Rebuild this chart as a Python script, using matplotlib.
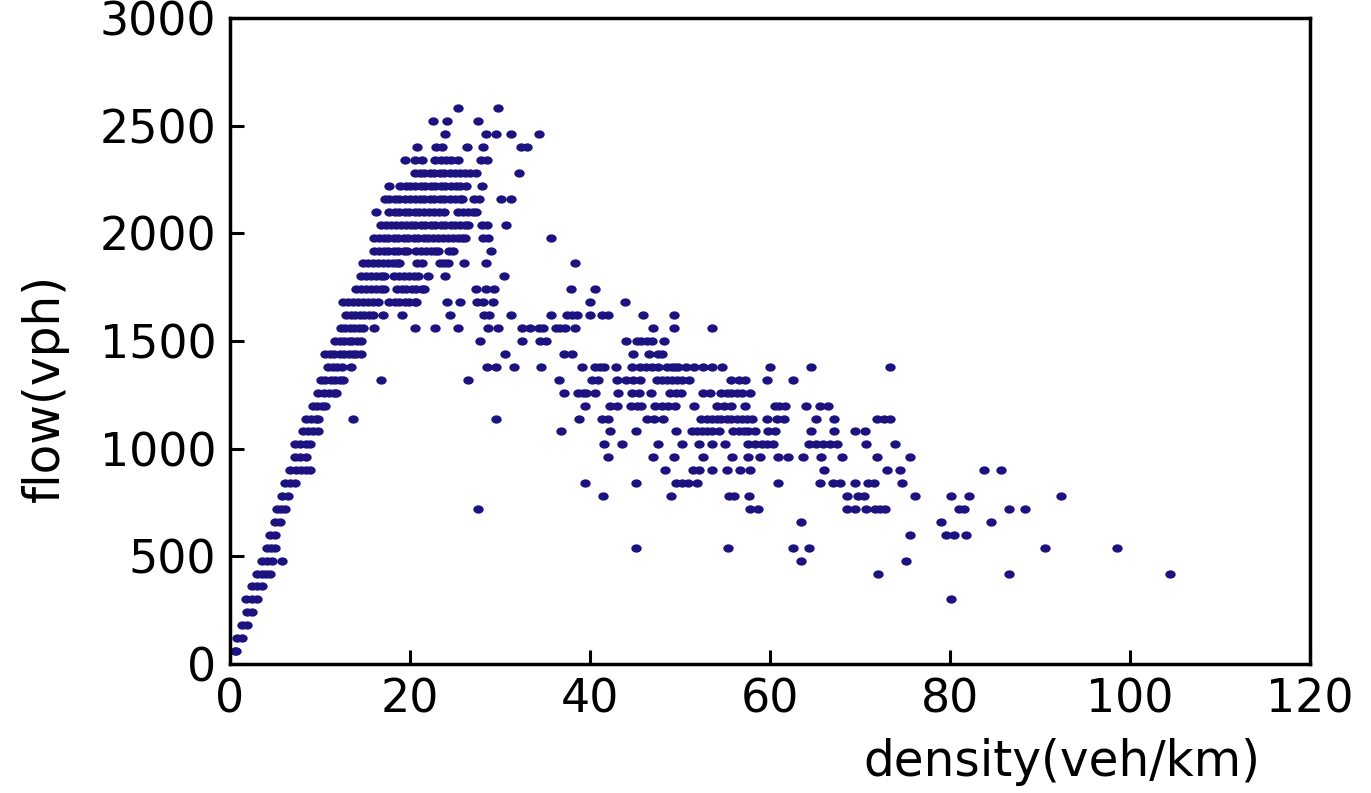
import matplotlib
matplotlib.use("Agg")
import matplotlib.pyplot as plt
from matplotlib.path import Path
from matplotlib.transforms import Affine2D

# flow levels (vph) and the densities (veh/km) observed at each level
flow_vph = [2580, 2520, 2460, 2400, 2340, 2280, 2220, 2160, 2100, 2040,
            1980, 1920, 1860, 1800, 1740, 1680, 1620, 1560, 1500, 1440,
            1380, 1320, 1260, 1200, 1140, 1080, 1020, 960, 900, 840,
            780, 720, 660, 600, 540, 480, 420, 360, 300, 240, 180, 120, 60]

density_rows = [
    [25.3, 29.8],
    [22.5, 24.1, 27.5],
    [23.9, 28.4, 29.6, 31.2, 34.3],
    [20.8, 22.9, 23.5, 26.3, 28.1, 32.3, 33.0],
    [19.4, 20.5, 21.3, 22.8, 23.4, 24.0, 24.6, 25.3, 27.9, 28.6],
    [20.5, 21.1, 21.6, 22.2, 22.7, 23.3, 23.8, 24.4, 25.0, 25.5, 26.1, 26.7, 27.3, 32.1],
    [17.7, 18.9, 19.5, 20.0, 20.6, 21.2, 21.7, 22.3, 22.8, 23.4, 23.9, 24.5, 25.1, 25.6,
     26.2, 28.0],
    [17.2, 17.7, 18.3, 18.8, 19.4, 20.0, 20.5, 21.1, 21.6, 22.2, 22.7, 23.3, 23.8, 24.4,
     25.0, 25.5, 25.8, 27.1, 27.7, 30.1, 31.2],
    [16.2, 17.7, 18.3, 18.8, 19.4, 19.9, 20.5, 21.0, 21.6, 22.1, 22.7, 23.2, 23.8, 25.3,
     25.9, 26.4, 27.0, 27.3],
    [16.8, 17.3, 17.9, 18.4, 19.0, 19.5, 20.1, 20.6, 21.2, 21.7, 22.3, 22.8, 23.4, 23.9,
     24.5, 25.0, 25.6, 26.1, 26.4, 28.0, 28.6, 30.7],
    [16.0, 16.5, 17.1, 17.6, 18.2, 18.7, 19.3, 19.8, 20.4, 20.9, 21.5, 22.0, 22.6, 23.1,
     23.7, 24.2, 24.8, 25.3, 25.8, 26.1, 28.1, 28.7, 35.7],
    [16.0, 16.5, 17.1, 17.6, 18.2, 18.7, 19.3, 19.7, 20.7, 21.2, 21.8, 22.3, 22.8, 23.1,
     24.3, 24.8, 29.0],
    [14.8, 15.3, 15.9, 16.4, 17.0, 17.5, 18.1, 18.6, 18.8, 20.8, 21.3, 23.3, 23.8, 24.2,
     26.0, 28.4, 38.3],
    [14.6, 15.1, 15.7, 16.2, 16.8, 17.1, 18.2, 18.8, 19.3, 19.9, 20.4, 20.9, 22.0, 23.9,
     30.4],
    [14.0, 14.6, 15.1, 15.7, 16.2, 16.8, 17.1, 18.5, 19.1, 19.6, 20.2, 20.7, 21.3, 21.6,
     27.3, 28.4, 29.3, 37.9, 40.6],
    [12.6, 13.1, 13.7, 14.2, 14.8, 15.3, 15.9, 16.4, 17.7, 18.3, 18.8, 19.4, 19.9, 20.5,
     20.7, 24.1, 25.6, 27.4, 28.1, 29.2, 40.0, 43.9],
    [12.9, 13.4, 13.9, 14.4, 14.9, 15.4, 15.9, 17.0, 19.1, 24.4, 28.2, 28.8, 31.2, 35.7,
     37.4, 38.0, 38.5, 40.0, 41.3, 42.0, 45.9, 49.3],
    [12.3, 12.8, 13.3, 13.8, 14.3, 14.8, 16.0, 20.6, 22.8, 25.3, 28.7, 29.8, 32.4, 33.3,
     34.3, 34.8, 36.2, 36.7, 37.2, 38.3, 47.0, 49.3, 53.6],
    [11.7, 12.2, 12.7, 13.2, 13.6, 14.1, 14.6, 27.8, 32.4, 34.4, 35.1, 44.0, 45.2, 45.7,
     46.3, 46.9, 48.2],
    [10.6, 11.1, 11.6, 12.2, 12.7, 13.2, 13.7, 14.0, 14.6, 30.6, 37.1, 38.0, 44.8, 46.5,
     47.5, 48.0],
    [10.9, 11.4, 11.9, 12.4, 13.4, 28.5, 29.5, 31.5, 34.5, 39.1, 40.6, 41.1, 41.5, 42.9,
     44.7, 45.6, 46.2, 46.9, 47.6, 48.5, 49.1, 49.4, 49.8, 50.7, 51.6, 52.5, 53.6, 54.7,
     60.0, 64.5, 73.3],
    [10.1, 10.6, 11.2, 11.7, 12.2, 12.6, 16.8, 26.4, 36.5, 40.2, 40.9, 43.0, 44.0, 44.8,
     45.6, 47.4, 48.0, 48.6, 49.1, 49.7, 50.2, 51.0, 55.7, 56.5, 57.2, 59.7, 62.5],
    [9.8, 10.4, 11.0, 11.5, 11.8, 37.1, 38.7, 39.2, 39.6, 40.6, 43.1, 44.7, 45.4, 46.8,
     48.9, 49.6, 50.1, 52.5, 53.3, 54.6, 55.2, 55.7, 56.3, 56.9, 57.8],
    [9.2, 9.7, 10.2, 10.6, 39.4, 42.2, 43.0, 44.6, 45.2, 45.7, 47.2, 48.0, 48.7, 49.4,
     51.6, 54.1, 54.9, 55.7, 57.2, 60.6, 61.0, 61.7, 64.0, 65.6, 66.4],
    [8.4, 9.0, 9.5, 9.8, 13.7, 29.5, 38.8, 41.3, 42.0, 46.3, 47.1, 48.1, 52.3, 53.0,
     53.5, 54.1, 54.6, 55.2, 55.7, 56.3, 56.9, 57.4, 58.0, 59.7, 60.8, 61.5, 65.1, 67.1,
     71.9, 72.7, 73.3],
    [8.1, 8.7, 9.2, 9.8, 36.8, 42.2, 45.1, 49.6, 51.3, 51.9, 52.4, 53.0, 53.5, 54.3,
     55.9, 56.5, 57.1, 57.6, 58.3, 59.8, 60.5, 64.5, 67.1, 69.4, 70.5],
    [7.2, 7.8, 8.4, 8.9, 41.5, 43.6, 47.6, 50.2, 52.1, 53.6, 55.0, 57.6, 58.3, 59.1,
     59.7, 60.3, 64.3, 65.1, 65.9, 66.7, 67.4, 70.7, 73.9],
    [7.2, 7.8, 8.4, 42.0, 47.0, 49.3, 52.5, 55.8, 57.5, 58.9, 60.9, 62.0, 63.7, 65.7,
     68.0, 71.9, 75.6],
    [6.7, 7.3, 7.9, 8.4, 8.9, 48.3, 51.4, 52.1, 53.5, 55.2, 56.7, 57.8, 66.0, 73.0,
     74.4, 83.8, 85.7],
    [6.1, 6.7, 7.2, 39.4, 45.1, 49.6, 50.2, 50.9, 51.9, 60.9, 65.6, 67.0, 67.8, 69.4,
     70.9, 71.5, 74.7],
    [5.8, 6.4, 41.4, 49.0, 55.4, 56.0, 57.7, 68.5, 69.8, 70.4, 76.1, 80.1, 82.1, 92.3],
    [5.2, 5.7, 6.1, 27.6, 57.8, 58.7, 68.5, 69.4, 70.7, 71.7, 72.2, 72.8, 81.0, 81.6,
     86.6, 88.3],
    [5.0, 5.5, 63.4, 79.0, 84.6],
    [4.4, 5.0, 75.6, 79.5, 80.4, 81.8],
    [4.1, 4.5, 5.0, 45.1, 55.3, 62.6, 64.3, 90.6, 98.5],
    [3.6, 4.1, 4.7, 5.8, 63.4, 75.1],
    [3.0, 3.5, 4.0, 4.4, 72.0, 86.6, 104.4],
    [2.4, 3.0, 3.6],
    [1.8, 2.4, 3.0, 80.1],
    [1.9, 2.4],
    [1.3, 1.9],
    [0.8, 1.3],
    [0.5, 0.7],
]

x_ticks = [0, 20, 40, 60, 80, 100, 120]
y_ticks = [0, 500, 1000, 1500, 2000, 2500, 3000]

density = []
flow = []
for f, row in zip(flow_vph, density_rows):
    density.extend(row)
    flow.extend([f] * len(row))

# the dots in the picture are a little wider than tall
dot = Path.unit_circle().transformed(Affine2D().scale(1.0, 0.8))

fig = plt.figure(figsize=(13.71, 7.93), dpi=100)
ax = fig.add_axes([0.1678, 0.1627, 0.7877, 0.8146])

ax.scatter(density, flow, s=56, marker=dot, c="#1c1280", linewidths=0)

ax.set_xlim(0, 120)
ax.set_ylim(0, 3000)
ax.set_xticks(x_ticks)
ax.set_yticks(y_ticks)
ax.tick_params(direction="in", length=10, width=2.2, labelsize=33, pad=10,
               colors="black")
for sp in ax.spines.values():
    sp.set_linewidth(2.5)

fig.text(1062 / 1371, 1 - 762 / 793, "density(veh/km)", ha="center", va="center",
         fontsize=35)
fig.text(45 / 1371, 1 - 388 / 793, "flow(vph)", ha="center", va="center",
         rotation=90, fontsize=35)

fig.savefig("out.png", dpi=100)
